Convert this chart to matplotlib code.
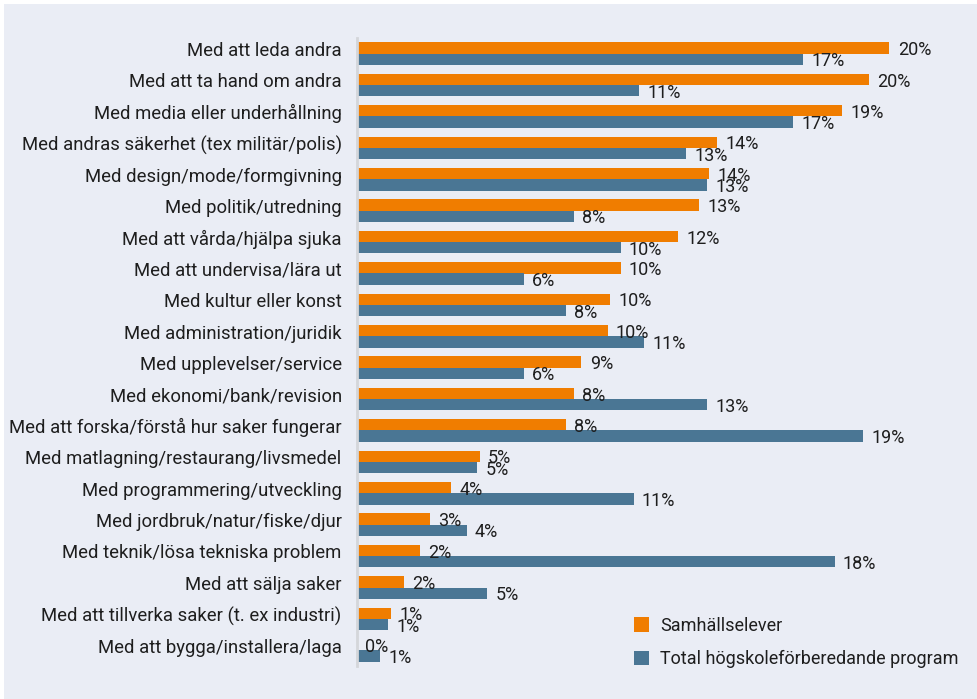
import numpy as np
import matplotlib.pyplot as plt
from matplotlib.patches import Rectangle

plt.rcParams['font.family'] = ['Roboto', 'DejaVu Sans']

categories = [
    'Med att leda andra',
    'Med att ta hand om andra',
    'Med media eller underhållning',
    'Med andras säkerhet (tex militär/polis)',
    'Med design/mode/formgivning',
    'Med politik/utredning',
    'Med att vårda/hjälpa sjuka',
    'Med att undervisa/lära ut',
    'Med kultur eller konst',
    'Med administration/juridik',
    'Med upplevelser/service',
    'Med ekonomi/bank/revision',
    'Med att forska/förstå hur saker fungerar',
    'Med matlagning/restaurang/livsmedel',
    'Med programmering/utveckling',
    'Med jordbruk/natur/fiske/djur',
    'Med teknik/lösa tekniska problem',
    'Med att sälja saker',
    'Med att tillverka saker (t. ex industri)',
    'Med att bygga/installera/laga',
]
samhall = [20.4, 19.6, 18.6, 13.8, 13.5, 13.1, 12.3, 10.1, 9.7, 9.6,
           8.6, 8.3, 8.0, 4.7, 3.6, 2.8, 2.4, 1.8, 1.3, 0.0]
total = [17.1, 10.8, 16.7, 12.6, 13.4, 8.3, 10.1, 6.4, 8.0, 11.0,
         6.4, 13.4, 19.4, 4.6, 10.6, 4.2, 18.3, 5.0, 1.2, 0.9]
series_names = ['Samhällselever', 'Total högskoleförberedande program']

bg = '#eaedf5'
orange = '#f07d00'
blue = '#4a7694'
txt = '#1e1e1e'

W, H = 978, 699
fig = plt.figure(figsize=(W / 100, H / 100), dpi=100)
fig.patch.set_facecolor('white')
fig.add_artist(Rectangle((4 / W, 0), 1, 1 - 4 / H, transform=fig.transFigure,
                         facecolor=bg, edgecolor='none', zorder=-10))

ax = fig.add_axes([357 / W, 1 - 666 / H, 600 / W, 628 / H])
ax.set_facecolor('none')

y = np.arange(len(categories))
h = 0.36
b1 = ax.barh(y - h / 2, samhall, height=h, color=orange, label=series_names[0])
b2 = ax.barh(y + h / 2, total, height=h, color=blue, label=series_names[1])

for bars, vals in ((b1, samhall), (b2, total)):
    for rect, v in zip(bars, vals):
        ax.annotate(f'{round(v)}%', (rect.get_width(), rect.get_y() + rect.get_height() / 2),
                    xytext=(6, -1.5), textcoords='offset points', va='center', ha='left',
                    fontsize=13, color=txt)

ax.set_xlim(0, 600 / 26.1)
ax.set_ylim(len(categories) - 0.5, -0.5)
ax.set_yticks(y - 0.15)
ax.set_yticklabels(categories, fontsize=13.3, color=txt)
ax.tick_params(axis='y', length=0, pad=11)
ax.set_xticks([])
for s in ['top', 'right', 'bottom']:
    ax.spines[s].set_visible(False)
ax.spines['left'].set_color('#d4d6da')
ax.spines['left'].set_linewidth(2)

fig.legend(handles=[b1, b2], labels=series_names, loc='lower left',
           bbox_to_anchor=(634 / W, 1 - 668 / H), bbox_transform=fig.transFigure,
           frameon=False, fontsize=13, borderpad=0, borderaxespad=0,
           handlelength=0.85, handleheight=0.85, handletextpad=0.6, labelspacing=0.85,
           labelcolor=txt)

fig.savefig('out.png', dpi=100)
